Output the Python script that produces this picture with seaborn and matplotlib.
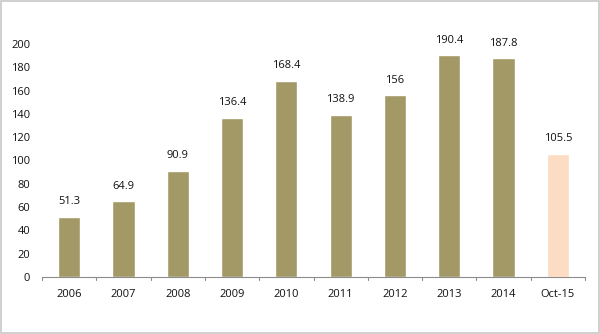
import matplotlib
matplotlib.use("Agg")
import matplotlib.pyplot as plt
import seaborn as sns
import pandas as pd
from matplotlib.patches import Rectangle

categories = ["2006", "2007", "2008", "2009", "2010", "2011", "2012", "2013", "2014", "Oct-15"]
values = [51.3, 64.9, 90.9, 136.4, 168.4, 138.9, 156, 190.4, 187.8, 105.5]
labels = ["51.3", "64.9", "90.9", "136.4", "168.4", "138.9", "156", "190.4", "187.8", "105.5"]
yticks = [0, 20, 40, 60, 80, 100, 120, 140, 160, 180, 200]

sns.set_theme(style="white")
plt.rcParams["font.family"] = ["Open Sans", "DejaVu Sans"]

df = pd.DataFrame({"period": categories, "value": values})
palette = ["#A39966"] * 9 + ["#FCDCC3"]

fig = plt.figure(figsize=(6.0, 3.34), dpi=100)
ax = fig.add_axes([0.07, 0.171, 0.905, 0.697])
sns.barplot(data=df, x="period", y="value", hue="period", palette=palette,
            legend=False, width=0.41, saturation=1, ax=ax)

ax.set_ylim(0, 200)
ax.set_xlim(-0.5, len(categories) - 0.5)
ax.set_yticks(yticks)
ax.set_yticklabels([str(t) for t in yticks], fontsize=8, color="#111111")
ax.set_xlabel("")
ax.set_ylabel("")
for lbl in ax.get_xticklabels():
    lbl.set_fontsize(8)
    lbl.set_color("#111111")

for s in ["top", "right", "left"]:
    ax.spines[s].set_visible(False)
ax.spines["bottom"].set_color("#8c8c8c")
ax.spines["bottom"].set_linewidth(0.8)

ax.tick_params(axis="y", length=0, pad=8.5)
ax.tick_params(axis="x", length=0, pad=9)
# category boundary tick marks below the axis line
for b in range(len(categories) + 1):
    ax.plot([b - 0.5, b - 0.5], [0, -3], color="#8c8c8c", lw=0.8,
            clip_on=False, transform=ax.transData)

for i, (v, t) in enumerate(zip(values, labels)):
    ax.annotate(t, (i, v), xytext=(0, 7), textcoords="offset points",
                ha="center", va="bottom", fontsize=8, color="#111111")

fig.patches.append(Rectangle((0.001, 0.002), 0.997, 0.995, transform=fig.transFigure,
                             fill=False, edgecolor="#c8c8c8", lw=1.2))

fig.savefig("out.png", dpi=100, facecolor="white")
